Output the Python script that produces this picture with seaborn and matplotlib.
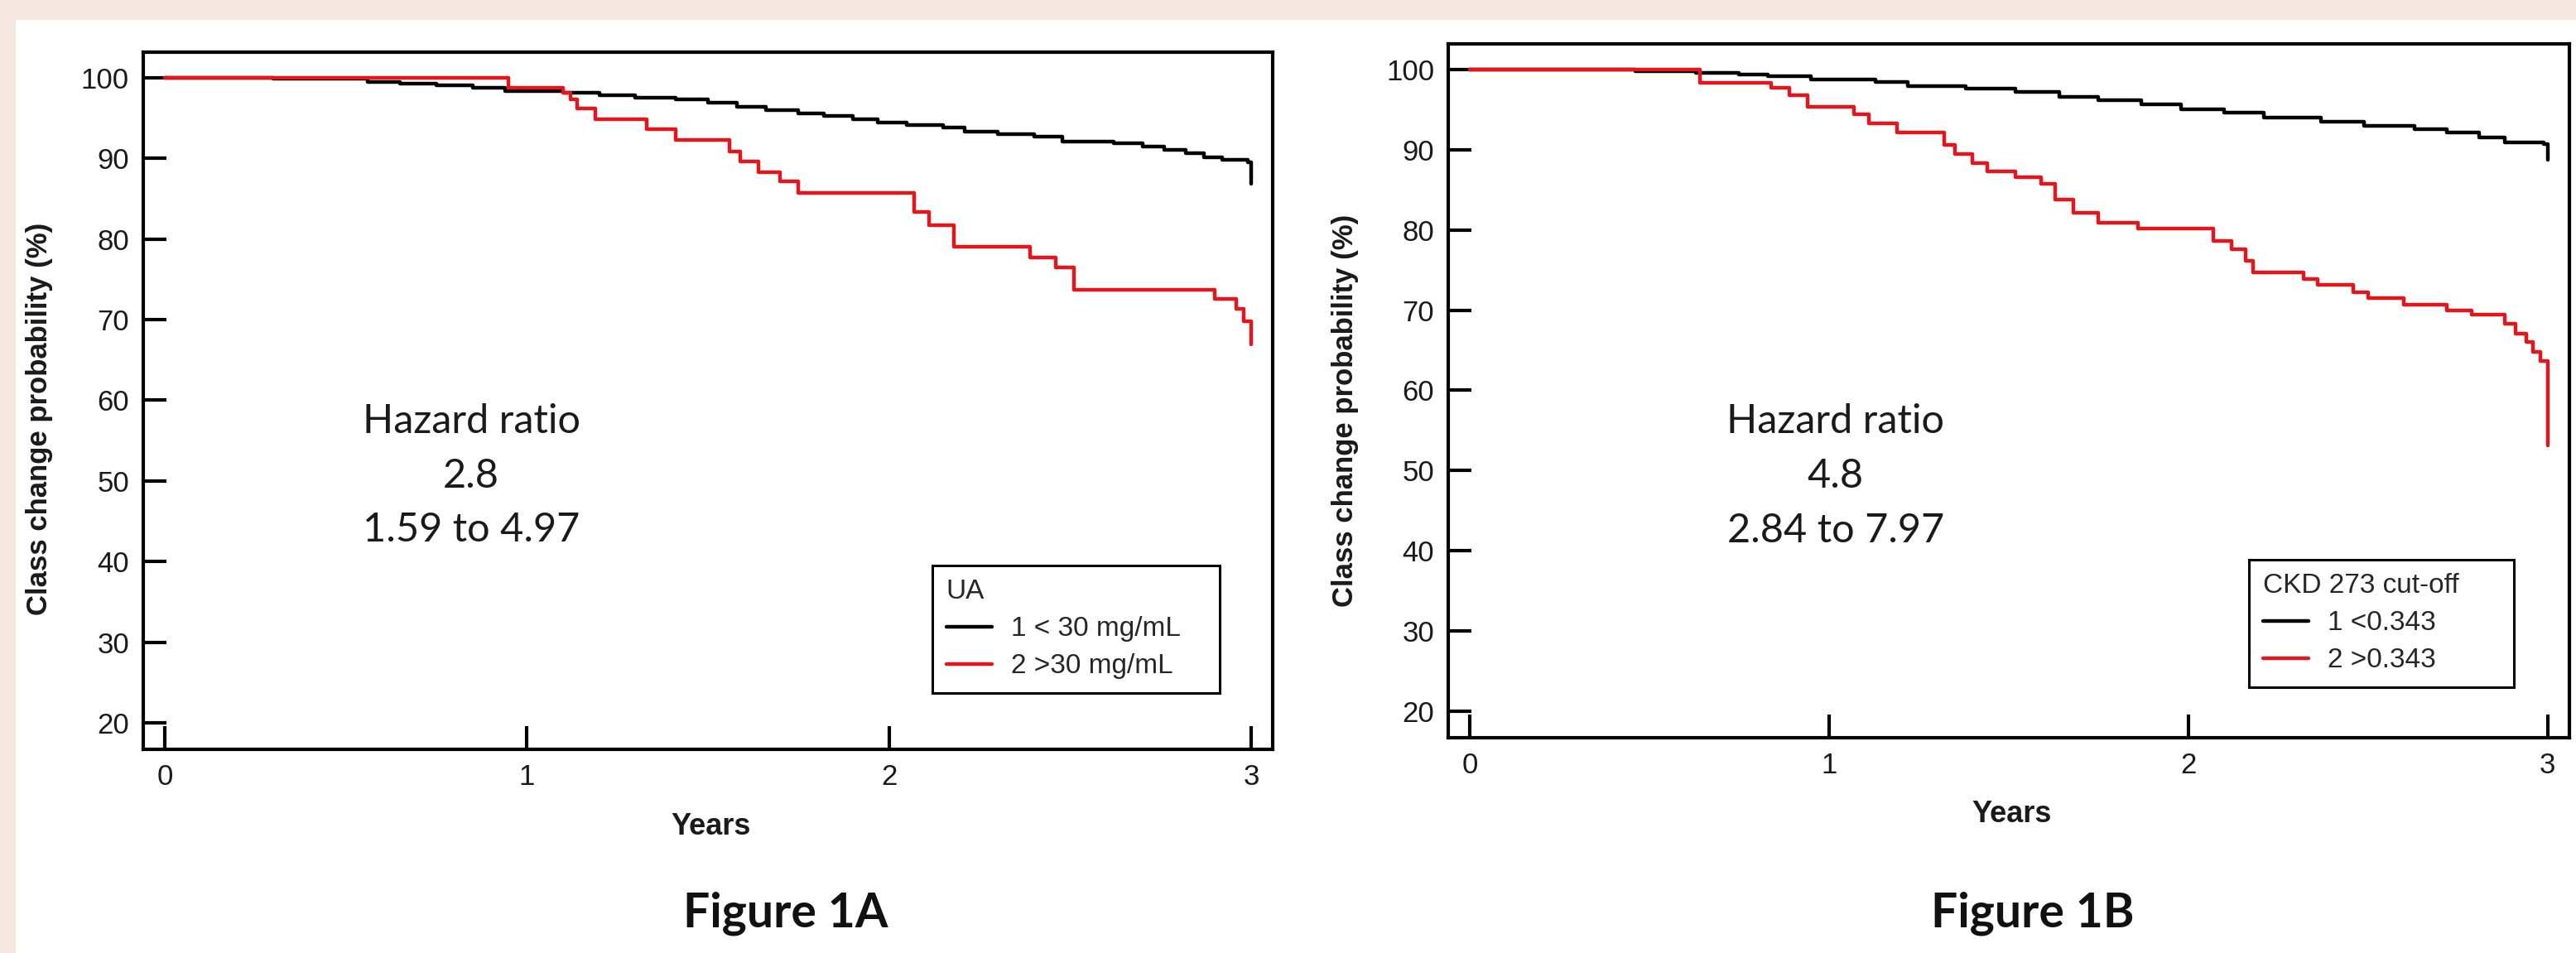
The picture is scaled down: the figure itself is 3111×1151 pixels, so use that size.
import matplotlib
matplotlib.use('Agg')
import matplotlib.pyplot as plt
from matplotlib.patches import Rectangle
import pandas as pd
import seaborn as sns

# Figure 1A - UA groups (years, class change probability %)
ua_low_t = [0, 0.30, 0.56, 0.65, 0.75, 0.85, 0.94, 1.10, 1.20, 1.30, 1.41, 1.50, 1.58, 1.66, 1.75, 1.82,
            1.90, 1.97, 2.05, 2.15, 2.21, 2.30, 2.40, 2.48, 2.62, 2.70, 2.76, 2.82, 2.87, 2.92, 2.99, 3.00]
ua_low_s = [100, 99.9, 99.5, 99.3, 99.1, 98.8, 98.3, 98.1, 97.8, 97.5, 97.3, 96.9, 96.4, 96.0, 95.6, 95.3,
            94.9, 94.4, 94.1, 93.8, 93.3, 93.0, 92.7, 92.1, 91.9, 91.5, 91.1, 90.6, 90.1, 89.8, 89.5, 86.8]
ua_high_t = [0, 0.95, 1.10, 1.12, 1.14, 1.19, 1.33, 1.41, 1.56, 1.59, 1.64, 1.70, 1.75, 2.07, 2.11, 2.18,
             2.39, 2.46, 2.51, 2.90, 2.96, 2.98, 3.00]
ua_high_s = [100, 98.8, 98.1, 97.3, 96.2, 94.9, 93.6, 92.3, 90.9, 89.6, 88.3, 87.2, 85.7, 83.4, 81.7, 79.0,
             77.7, 76.5, 73.7, 72.6, 71.3, 69.8, 66.9]

# Figure 1B - CKD 273 cut-off groups
ckd_low_t = [0, 0.46, 0.63, 0.75, 0.83, 0.95, 1.13, 1.22, 1.38, 1.52, 1.64, 1.75, 1.87, 1.98, 2.10, 2.21,
             2.37, 2.49, 2.63, 2.72, 2.81, 2.88, 2.99, 3.00]
ckd_low_s = [100, 99.8, 99.6, 99.4, 99.2, 98.8, 98.4, 97.9, 97.6, 97.2, 96.6, 96.2, 95.7, 95.0, 94.6, 94.0,
             93.5, 93.0, 92.6, 92.1, 91.5, 90.9, 90.7, 88.7]
ckd_high_t = [0, 0.64, 0.84, 0.89, 0.94, 1.07, 1.11, 1.19, 1.32, 1.35, 1.40, 1.44, 1.52, 1.59, 1.63, 1.68,
              1.75, 1.86, 2.07, 2.12, 2.16, 2.18, 2.32, 2.36, 2.46, 2.50, 2.60, 2.72, 2.79, 2.88, 2.91, 2.94,
              2.96, 2.98, 3.00]
ckd_high_s = [100, 98.3, 97.7, 96.8, 95.4, 94.4, 93.3, 92.1, 90.6, 89.5, 88.3, 87.3, 86.6, 85.7, 83.8, 82.1,
              80.9, 80.2, 78.6, 77.6, 76.2, 74.7, 73.9, 73.2, 72.2, 71.5, 70.7, 70.0, 69.4, 68.3, 67.1, 66.0,
              64.8, 63.7, 53.1]

ua_labels = ['1 < 30 mg/mL', '2 >30 mg/mL']
ckd_labels = ['1 <0.343', '2 >0.343']
hr_a = 'Hazard ratio\n2.8\n1.59 to 4.97'
hr_b = 'Hazard ratio\n4.8\n2.84 to 7.97'

RED = '#e3161c'

sns.set_style('white')
plt.rcParams['font.family'] = ['Liberation Sans', 'DejaVu Sans']


def make_df(t1, s1, t2, s2, labels):
    d1 = pd.DataFrame({'Years': t1, 'prob': s1, 'grp': labels[0]})
    d2 = pd.DataFrame({'Years': t2, 'prob': s2, 'grp': labels[1]})
    return pd.concat([d1, d2], ignore_index=True)


def draw_panel(ax, df, labels, legend_title, legend_box, hr_text, hr_pos, ylab_y):
    sns.lineplot(data=df, x='Years', y='prob', hue='grp', hue_order=labels,
                 palette={labels[0]: 'black', labels[1]: RED}, drawstyle='steps-post',
                 estimator=None, linewidth=3.2, ax=ax)
    ax.set_xlim(-0.06, 3.06)
    ax.set_ylim(16.7, 103.2)
    ax.set_xticks([0, 1, 2, 3])
    ax.set_yticks(range(20, 101, 10))
    ax.tick_params(bottom=True, left=True, direction='in', length=20, width=3, labelsize=25,
                   pad=12, colors='black', labelcolor='#1a1a1a')
    for sp in ax.spines.values():
        sp.set_visible(True)
        sp.set_linewidth(3)
        sp.set_color('black')
    ax.set_xlabel('Years', fontsize=26, fontweight='bold', color='#1a1a1a')
    ax.set_ylabel('Class change probability (%)', fontsize=25, fontweight='bold', color='#1a1a1a')
    ax.xaxis.set_label_coords(0.503, -0.09)
    ax.yaxis.set_label_coords(-0.08, ylab_y)
    sns.move_legend(ax, loc='lower left', bbox_to_anchor=legend_box, mode='expand', borderaxespad=0,
                    title=legend_title, fontsize=24, title_fontsize=24, frameon=True,
                    fancybox=False, edgecolor='black', framealpha=1, alignment='left',
                    handlelength=1.65, handletextpad=0.7, borderpad=0.5, labelspacing=0.42)
    leg = ax.get_legend()
    leg.get_frame().set_linewidth(2.2)
    ax.text(hr_pos[0], hr_pos[1], hr_text, transform=ax.transAxes, ha='center', va='center',
            fontsize=35, family=['Lato', 'DejaVu Sans'], color='#1a1a1a', linespacing=1.6)


fig = plt.figure(figsize=(31.11, 11.51), dpi=100, facecolor='#f5e6e0')
fig.patches.append(Rectangle((19 / 3111, 0), 1, 1 - 24 / 1151, transform=fig.transFigure,
                             facecolor='white', edgecolor='none', zorder=-1))

ax1 = fig.add_axes([0.0555, 0.2137, 0.4386, 0.7318])
ax2 = fig.add_axes([0.5622, 0.2259, 0.4351, 0.7281])

draw_panel(ax1, make_df(ua_low_t, ua_low_s, ua_high_t, ua_high_s, ua_labels), ua_labels, 'UA',
           (0.6988, 0.0807, 0.2543, 0.1), hr_a, (0.2905, 0.392), 0.474)
draw_panel(ax2, make_df(ckd_low_t, ckd_low_s, ckd_high_t, ckd_high_s, ckd_labels), ckd_labels,
           'CKD 273 cut-off', (0.7143, 0.0728, 0.2364, 0.1), hr_b, (0.3457, 0.377), 0.471)

fig.text(949 / 3111, 1 - 1103 / 1151, 'Figure 1A', ha='center', va='center', fontsize=41,
         fontweight='bold', family=['Lato', 'DejaVu Sans'], color='#111111')
fig.text(2455 / 3111, 1 - 1103 / 1151, 'Figure 1B', ha='center', va='center', fontsize=41,
         fontweight='bold', family=['Lato', 'DejaVu Sans'], color='#111111')

fig.savefig('out.png', dpi=100, facecolor=fig.get_facecolor())
plt.close(fig)
